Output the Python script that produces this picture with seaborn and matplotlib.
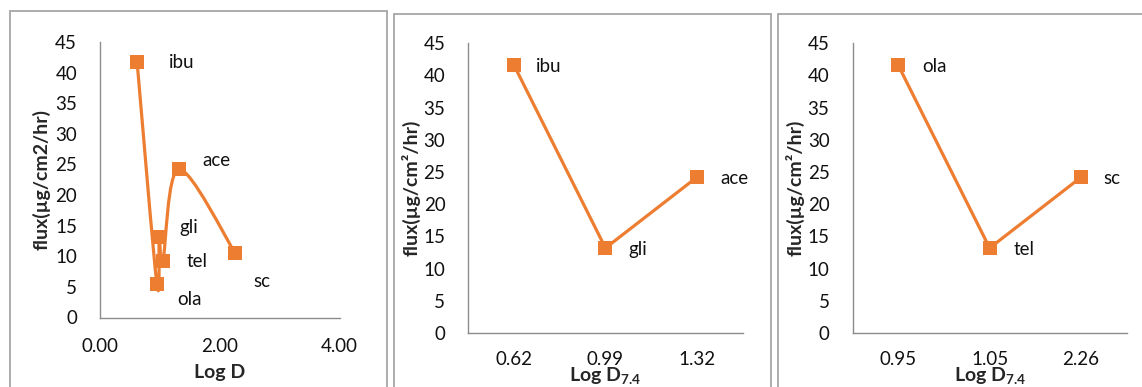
import numpy as np
import matplotlib
matplotlib.use("Agg")
import matplotlib.pyplot as plt
from matplotlib.path import Path
from matplotlib.patches import PathPatch, Rectangle
import seaborn as sns
import pandas as pd

# ---- data ----
drugs_all = ["ibu", "ola", "gli", "tel", "ace", "sc"]
logd_all = [0.62, 0.95, 0.99, 1.05, 1.32, 2.26]
flux_all = [41.7, 5.5, 13.2, 9.3, 24.2, 10.5]

drugs_b = ["ibu", "gli", "ace"]
logd_b = ["0.62", "0.99", "1.32"]
flux_b = [41.6, 13.2, 24.2]

drugs_c = ["ola", "tel", "sc"]
logd_c = ["0.95", "1.05", "2.26"]
flux_c = [41.6, 13.2, 24.2]

yticks = [0, 5, 10, 15, 20, 25, 30, 35, 40, 45]

ORANGE = "#ED7D31"
AXGRAY = "#8C8C8C"
BOXGRAY = "#A6A6A6"

sns.set_style("white")
plt.rcParams["font.family"] = ["Lato", "DejaVu Sans"]
plt.rcParams["mathtext.fontset"] = "custom"
plt.rcParams["mathtext.rm"] = "Lato"
plt.rcParams["mathtext.bf"] = "Lato:bold"

W, H = 1142, 387
fig = plt.figure(figsize=(W / 100, H / 100), dpi=100)


def px_axes(left, top, right, bottom):
    return fig.add_axes([left / W, 1 - bottom / H, (right - left) / W, (bottom - top) / H])


# panel frames
for (x0, y0, x1) in [(10, 11, 387), (394, 14, 771), (778, 14, 1150)]:
    fig.patches.append(Rectangle((x0 / W, -0.05), (x1 - x0) / W, 1 - y0 / H + 0.05,
                                 transform=fig.transFigure, fill=False,
                                 edgecolor=BOXGRAY, linewidth=1.3))

TICK_FS = 13.5
LAB_FS = 14
TXT = "#111111"


def style_axes(ax):
    for s in ["top", "right"]:
        ax.spines[s].set_visible(False)
    for s in ["left", "bottom"]:
        ax.spines[s].set_color(AXGRAY)
        ax.spines[s].set_linewidth(1.0)
    ax.set_ylim(0, 45)
    ax.set_yticks(yticks)
    ax.tick_params(axis="y", direction="out", length=5, width=1, color=AXGRAY,
                   pad=11.5, labelsize=TICK_FS, labelcolor=TXT)
    ax.grid(False)


def place_xlabel(ax, text, top_px, bottom_px, axis_px_h):
    ax.set_xlabel(text, fontsize=LAB_FS, fontweight="bold", va="top")
    ax.xaxis.set_label_coords(0.5, -(top_px - bottom_px) / axis_px_h)


def place_ylabel(ax, text, x_px, left_px, axis_px_w):
    ax.set_ylabel(text, fontsize=LAB_FS, fontweight="bold", va="center")
    ax.yaxis.set_label_coords(-(left_px - x_px) / axis_px_w, 0.5)


# ---- panel 1: smoothed scatter line ----
ax1 = px_axes(100, 42, 339.5, 317.5)
df1 = pd.DataFrame({"logd": logd_all, "flux": flux_all, "drug": drugs_all})
sns.scatterplot(data=df1, x="logd", y="flux", marker="s", s=110, color=ORANGE,
                edgecolor=ORANGE, linewidth=0, ax=ax1, zorder=3)

# Catmull-Rom style cubic Bezier through the points
P = np.column_stack([logd_all, flux_all])
verts = [P[0]]
codes = [Path.MOVETO]
n = len(P)
for i in range(n - 1):
    p_prev = P[i - 1] if i > 0 else P[i]
    p_next2 = P[i + 2] if i + 2 < n else P[i + 1]
    c1 = P[i] + (P[i + 1] - p_prev) / 6.0
    c2 = P[i + 1] - (p_next2 - P[i]) / 6.0
    verts += [c1, c2, P[i + 1]]
    codes += [Path.CURVE4] * 3
ax1.add_patch(PathPatch(Path(verts, codes), fill=False, edgecolor=ORANGE,
                        linewidth=2.3, zorder=2, capstyle="round", joinstyle="round"))

ax1.set_xlim(0, 4)
ax1.set_xticks([0, 2, 4])
ax1.set_xticklabels(["0.00", "2.00", "4.00"])
style_axes(ax1)
ax1.tick_params(axis="x", direction="out", length=5, width=1, color=AXGRAY,
                pad=10, labelsize=TICK_FS, labelcolor=TXT)
place_xlabel(ax1, "Log D", 364, 317.5, 275.5)
place_ylabel(ax1, "flux(µg/cm2/hr)", 42, 100, 239.5)

offsets1 = {"ibu": (45, 0), "ace": (37, 9), "gli": (29, 9),
            "tel": (34, -1), "ola": (33, -16), "sc": (27, -28)}
for d, x, y in zip(drugs_all, logd_all, flux_all):
    ax1.annotate(d, (x, y), xytext=offsets1[d], textcoords="offset pixels",
                 ha="center", va="center", fontsize=TICK_FS, color=TXT)


# ---- panels 2 and 3: category line charts ----
def category_panel(left, drugs, cats, flux, label_dx):
    ax = px_axes(left, 43.3, left + 274.3, 333)
    pos = list(range(len(cats)))
    df = pd.DataFrame({"pos": pos, "flux": flux})
    sns.lineplot(data=df, x="pos", y="flux", color=ORANGE, linewidth=2.3,
                 marker="s", markersize=10.5, markeredgewidth=0,
                 markerfacecolor=ORANGE, ax=ax)
    ax.set_xlim(-0.5, len(cats) - 0.5)
    ax.set_xticks(pos)
    ax.set_xticklabels(cats)
    ax.set_xticks([p - 0.5 for p in pos] + [len(cats) - 0.5], minor=True)
    style_axes(ax)
    ax.tick_params(axis="x", which="major", length=0, pad=13,
                   labelsize=TICK_FS, labelcolor=TXT)
    ax.tick_params(axis="x", which="minor", direction="out", length=5,
                   width=1, color=AXGRAY)
    place_xlabel(ax, r"Log D$_{\mathbf{7.4}}$", 366, 333, 289.7)
    place_ylabel(ax, "flux(µg/cm²/hr)", left - 57, left, 274.3)
    for d, p, y, dx in zip(drugs, pos, flux, label_dx):
        ax.annotate(d, (p, y), xytext=(dx, -1), textcoords="offset pixels",
                    ha="center", va="center", fontsize=TICK_FS, color=TXT)
    return ax


ax2 = category_panel(468.3, drugs_b, logd_b, flux_b, [35, 32, 38])
ax3 = category_panel(852.5, drugs_c, logd_c, flux_c, [36, 34, 31])

fig.savefig("out.png", dpi=100, facecolor="white")
